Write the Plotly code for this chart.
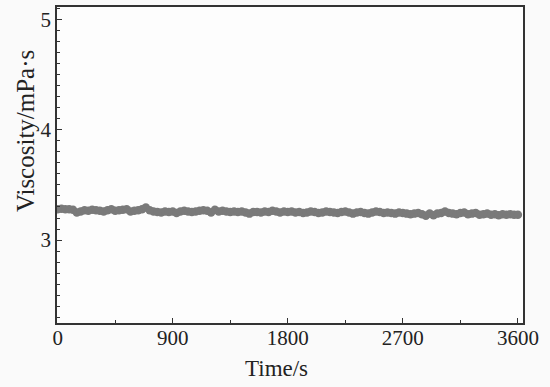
import plotly.graph_objects as go

time_s = list(range(0, 3601, 30))
viscosity = [
    3.280, 3.285, 3.280, 3.280, 3.275, 3.250, 3.260, 3.270, 3.265, 3.275,
    3.270, 3.265, 3.260, 3.270, 3.280, 3.265, 3.270, 3.275, 3.280, 3.260,
    3.265, 3.270, 3.280, 3.295, 3.270, 3.260, 3.255, 3.250, 3.260, 3.255,
    3.260, 3.245, 3.260, 3.265, 3.260, 3.255, 3.260, 3.265, 3.270, 3.265,
    3.250, 3.275, 3.260, 3.265, 3.260, 3.255, 3.260, 3.255, 3.260, 3.250,
    3.240, 3.255, 3.255, 3.250, 3.260, 3.255, 3.265, 3.260, 3.250, 3.260,
    3.255, 3.260, 3.250, 3.255, 3.245, 3.250, 3.260, 3.255, 3.245, 3.250,
    3.260, 3.255, 3.250, 3.245, 3.255, 3.260, 3.250, 3.240, 3.250, 3.255,
    3.245, 3.240, 3.250, 3.260, 3.255, 3.245, 3.250, 3.245, 3.240, 3.250,
    3.245, 3.240, 3.235, 3.240, 3.245, 3.235, 3.220, 3.240, 3.225, 3.240,
    3.245, 3.260, 3.245, 3.240, 3.235, 3.245, 3.250, 3.235, 3.240, 3.245,
    3.230, 3.235, 3.240, 3.230, 3.235, 3.225, 3.235, 3.230, 3.235, 3.230,
    3.230,
]
x_ticks = [0, 900, 1800, 2700, 3600]
y_ticks = [3, 4, 5]

FONT = "Liberation Serif"

fig = go.Figure()
fig.add_trace(go.Scatter(
    x=time_s, y=viscosity, mode="markers",
    marker=dict(color="#7a7a7a", size=8.5, line=dict(width=0)),
    showlegend=False,
))

axis_common = dict(
    showline=True, linecolor="#333333", linewidth=1.5, mirror=True,
    showgrid=False, zeroline=False, ticks="inside", ticklen=5,
    tickcolor="#333333", tickwidth=1.2,
    tickfont=dict(family=FONT, size=21, color="#222222"),
)

fig.update_xaxes(
    range=[-5, 3640], tickvals=x_ticks, ticklabelstandoff=-5,
    minor=dict(ticks="inside", dtick=450, tick0=0, ticklen=3, tickcolor="#333333"),
    **axis_common,
)
fig.update_yaxes(
    range=[2.25, 5.11], tickvals=y_ticks,
    minor=dict(ticks="inside", dtick=0.1, tick0=0, ticklen=3, tickcolor="#333333"),
    **axis_common,
)

fig.add_annotation(
    text="Viscosity/mPa·s", xref="paper", yref="paper",
    x=-0.066, y=0.608, xanchor="center", yanchor="middle",
    textangle=-90, showarrow=False,
    font=dict(family=FONT, size=25, color="#222222"),
)
fig.add_annotation(
    text="Time/s", xref="paper", yref="paper",
    x=0.472, y=-0.145, xanchor="center", yanchor="middle",
    showarrow=False,
    font=dict(family=FONT, size=23, color="#222222"),
)

fig.update_layout(
    width=550, height=387,
    margin=dict(l=57, r=27, t=7, b=64, autoexpand=False),
    paper_bgcolor="#fafafa", plot_bgcolor="#fdfdfd",
)

fig.write_html("out.html", config={"displayModeBar": False},
               post_script="document.body.style.margin='0';")
